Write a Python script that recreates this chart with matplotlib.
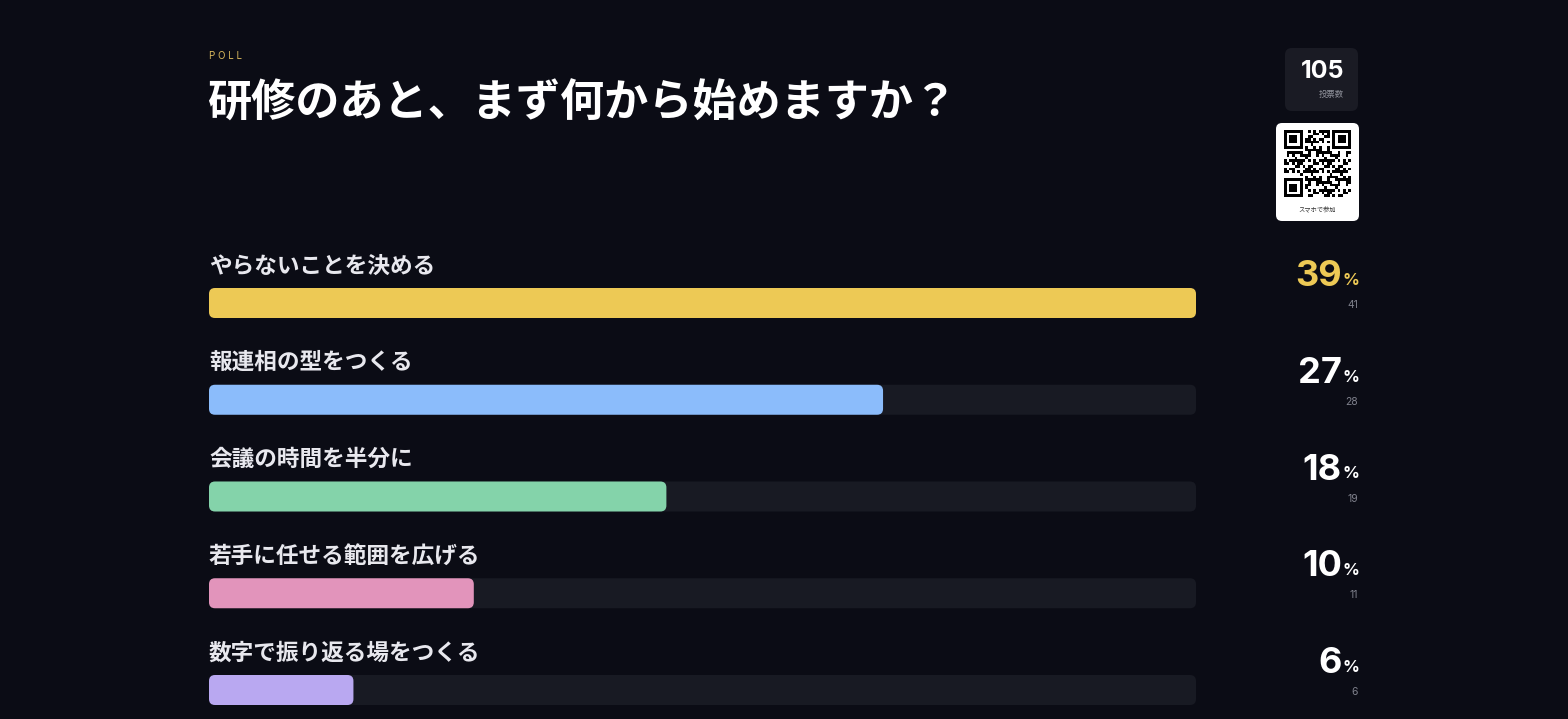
import matplotlib
matplotlib.use('Agg')
import matplotlib.pyplot as plt
from matplotlib.patches import FancyBboxPatch
import numpy as np

plt.rcParams['font.family'] = ['Noto Sans CJK JP', 'DejaVu Sans']

# poll data
options = ['やらないことを決める', '報連相の型をつくる', '会議の時間を半分に',
           '若手に任せる範囲を広げる', '数字で振り返る場をつくる']
votes = [41, 28, 19, 11, 6]
bar_colors = ['#edc955', '#8bbcfb', '#84d3aa', '#e294bb', '#b9a8f1']
total_votes = 105
title = '研修のあと、まず何から始めますか？'

percents = [int(round(v / total_votes * 100)) for v in votes]

W, H = 1568, 719
bg = '#0b0c15'
track = '#181a23'
num_font = ['Inter', 'DejaVu Sans']

fig = plt.figure(figsize=(W / 100, H / 100), dpi=100, facecolor=bg)

# full-figure axes in pixel units for text and decorations
ax = fig.add_axes([0, 0, 1, 1])
ax.set_xlim(0, W)
ax.set_ylim(H, 0)
ax.axis('off')

# bar axes: x in votes, y in pixels
bx = fig.add_axes([209 / W, 0, 987 / W, 1])
vmax = max(votes)
bx.set_xlim(0, vmax)
bx.set_ylim(H, 0)
bx.axis('off')
bx.patch.set_alpha(0)

px_per_unit = 987 / vmax
r = 6 / px_per_unit
bar_h = 30
row_gap = 96.75
first_top = 288

for i, (opt, v, p, c) in enumerate(zip(options, votes, percents, bar_colors)):
    top = first_top + i * row_gap
    bx.add_patch(FancyBboxPatch((0, top), vmax, bar_h,
                                boxstyle=f'round,pad=0,rounding_size={r}',
                                mutation_aspect=px_per_unit, fc=track, ec='none'))
    bx.add_patch(FancyBboxPatch((0, top), v, bar_h,
                                boxstyle=f'round,pad=0,rounding_size={r}',
                                mutation_aspect=px_per_unit, fc=c, ec='none'))
    ax.text(209, top - 22, opt, fontsize=16.3, fontweight='bold', color='#e8e8ee',
            ha='left', va='center')
    pcol = c if i == 0 else 'white'
    ax.text(1342, top - 2, str(p), fontsize=26, fontweight='bold', color=pcol,
            ha='right', va='baseline', family=num_font)
    ax.text(1359, top - 3, '%', fontsize=12, fontweight='bold', color=pcol,
            ha='right', va='baseline', family=num_font)
    ax.text(1358, top + 17, str(v), fontsize=7.5, color='#7f818c',
            ha='right', va='center', family=num_font)

# header
ax.text(209, 56, 'P O L L', fontsize=7, color='#d9b85c', ha='left', va='center',
        family=num_font)
ax.text(207, 104, title, fontsize=31.8, fontweight='bold', color='white',
        ha='left', va='center')

# vote count box
ax.add_patch(FancyBboxPatch((1285, 48), 73, 63, boxstyle='round,pad=0,rounding_size=7',
                            fc='#1a1b24', ec='none'))
ax.text(1344, 71, str(total_votes), fontsize=18, fontweight='bold', color='white',
        ha='right', va='center', family=num_font)
ax.text(1344, 95, '投票数', fontsize=6, color='#8d8f99', ha='right', va='center')

# QR card
ax.add_patch(FancyBboxPatch((1276, 123), 83, 98, boxstyle='round,pad=0,rounding_size=6',
                            fc='white', ec='none'))
n = 25
ii, jj = np.meshgrid(np.arange(n), np.arange(n), indexing='ij')
qr = (((ii * ii * 31 + jj * jj * 17 + ii * jj * 7 + ii * 3 + jj) % 11) < 5).astype(float)
for (a, b) in [(0, 0), (0, n - 7), (n - 7, 0)]:
    qr[max(a - 1, 0):a + 8, max(b - 1, 0):b + 8] = 0
    qr[a:a + 7, b:b + 7] = 1
    qr[a + 1:a + 6, b + 1:b + 6] = 0
    qr[a + 2:a + 5, b + 2:b + 5] = 1
ax.imshow(1 - qr, cmap='gray', vmin=0, vmax=1, extent=(1284, 1351, 197, 130),
          interpolation='nearest', zorder=3)
ax.set_xlim(0, W)
ax.set_ylim(H, 0)
ax.set_aspect('auto')
ax.text(1317.5, 210, 'スマホで参加', fontsize=4.5, color='#333333', ha='center', va='center')

fig.savefig('out.png', dpi=100, facecolor=bg)
